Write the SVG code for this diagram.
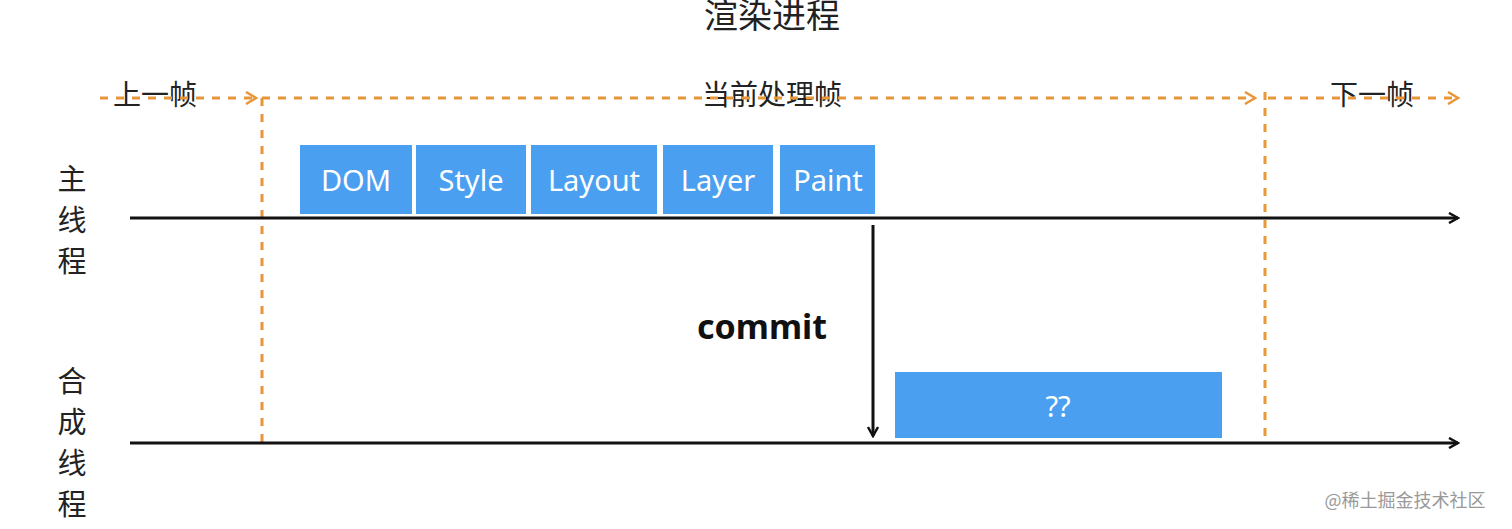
<svg xmlns="http://www.w3.org/2000/svg" width="1512" height="529" viewBox="0 0 1512 529">
<style>
.cn{font-family:"Noto Sans CJK SC","Noto Sans",sans-serif;fill:#222}
.box{fill:#4a9ff0}
.bt{font-family:"Noto Sans","Liberation Sans",sans-serif;font-size:29px;fill:#fff;text-anchor:middle}
.ax{stroke:#111;stroke-width:3;fill:none}
.dash{stroke:#e8963a;stroke-width:3;stroke-dasharray:8,8;fill:none}
</style>
<defs>
<marker id="ah" markerWidth="12" markerHeight="12" refX="10" refY="6" orient="auto" markerUnits="userSpaceOnUse"><path d="M1,1 L10,6 L1,11" fill="none" stroke="#111" stroke-width="2.5"/></marker>
<marker id="oh" markerWidth="14" markerHeight="14" refX="12" refY="7" orient="auto" markerUnits="userSpaceOnUse"><path d="M2,1 L12,7 L2,13" fill="none" stroke="#e8963a" stroke-width="2.5"/></marker>
</defs>
<rect width="1512" height="529" fill="#fff"/>
<text class="cn" x="772" y="28" font-size="34" text-anchor="middle">渲染进程</text>
<g id="labels">
<text class="cn" x="155" y="105" font-size="28" text-anchor="middle">上一帧</text>
<text class="cn" x="772" y="105" font-size="28" text-anchor="middle">当前处理帧</text>
<text class="cn" x="1372" y="105" font-size="28" text-anchor="middle">下一帧</text>
<text class="cn" font-size="29" text-anchor="middle"><tspan x="72" y="190">主</tspan><tspan x="72" y="231">线</tspan><tspan x="72" y="272">程</tspan></text>
<text class="cn" font-size="29" text-anchor="middle"><tspan x="72" y="392">合</tspan><tspan x="72" y="433">成</tspan><tspan x="72" y="474">线</tspan><tspan x="72" y="515">程</tspan></text>
</g>
<g id="connectors">
<path class="dash" d="M100,98 H256" marker-end="url(#oh)"/>
<path class="dash" d="M262,98 H1255" marker-end="url(#oh)"/>
<path class="dash" d="M1268,98 H1458" marker-end="url(#oh)"/>
<path class="dash" d="M262,98 V443"/>
<path class="dash" d="M1265,92 V443"/>
<path class="ax" d="M130,218 H1458" marker-end="url(#ah)"/>
<path class="ax" d="M130,443 H1458" marker-end="url(#ah)"/>
<path class="ax" d="M873,225 V436" marker-end="url(#ah)"/>
</g>
<text x="762" y="339" font-family="Noto Sans,Liberation Sans,sans-serif" font-size="34" font-weight="bold" fill="#111" text-anchor="middle">commit</text>
<g id="dom"><rect class="box" x="300" y="145" width="112" height="69"/><text class="bt" x="356" y="191">DOM</text></g>
<g id="style"><rect class="box" x="416" y="145" width="110" height="69"/><text class="bt" x="471" y="191">Style</text></g>
<g id="layout"><rect class="box" x="531" y="145" width="126" height="69"/><text class="bt" x="594" y="191">Layout</text></g>
<g id="layer"><rect class="box" x="663" y="145" width="110" height="69"/><text class="bt" x="718" y="191">Layer</text></g>
<g id="paint"><rect class="box" x="780" y="145" width="95" height="69"/><text class="bt" x="828" y="191">Paint</text></g>
<g id="comp"><rect class="box" x="895" y="372" width="327" height="66"/><text class="bt" x="1058" y="417">??</text></g>
<text x="1405" y="507" font-family="Noto Sans CJK SC,sans-serif" font-size="18" fill="#999" text-anchor="middle">@稀土掘金技术社区</text>
</svg>
